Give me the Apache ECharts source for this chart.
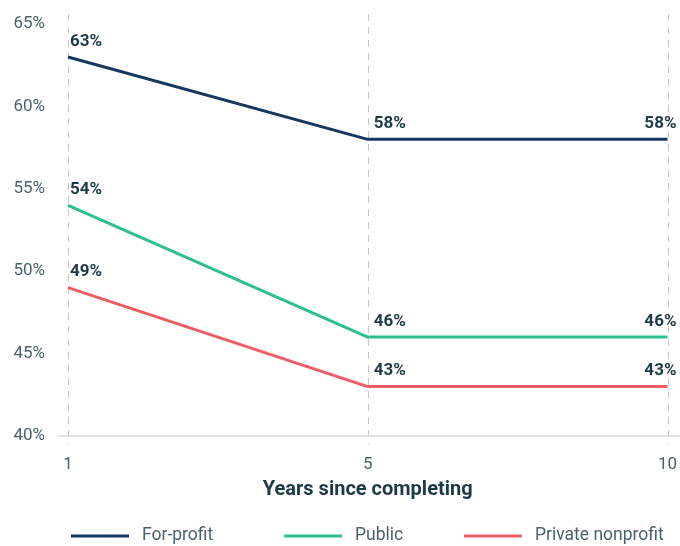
<!DOCTYPE html>
<html><head><meta charset="utf-8">
<script src="https://cdn.jsdelivr.net/npm/echarts@6/dist/echarts.min.js"></script>
<style>html,body{margin:0;padding:0;background:#fff}#c{width:680px;height:546px}</style>
</head><body><div id="c"></div>
<script>
const categories = ['1', '5', '10'];
const forProfit = [63, 58, 58];
const publicVals = [54, 46, 46];
const privateNonprofit = [49, 43, 43];
const yTicks = [40, 45, 50, 55, 60, 65];

const FONT = 'Roboto';
const labelColor = '#1e3a44';
const axisTextColor = '#4b6269';

function mkData(vals) {
  return vals.map((v, i) => ({
    value: v,
    label: i === vals.length - 1
      ? { align: 'right', offset: [9, 0] }
      : { align: 'left', offset: [i === 0 ? 2 : 6, 0] }
  }));
}
function series(name, vals, color) {
  return {
    name, type: 'line', xAxisIndex: 0, yAxisIndex: 0,
    data: mkData(vals), showSymbol: true, symbol: 'circle', symbolSize: 0.1,
    lineStyle: { color, width: 3 }, itemStyle: { color },
    label: { show: true, position: 'top', distance: 7, formatter: '{c}%',
      color: labelColor, fontFamily: FONT, fontWeight: 'bold', fontSize: 17 },
    emphasis: { disabled: true }, animation: false
  };
}
const chart = echarts.init(document.getElementById('c'));
const legendBase = { top: 527, padding: 0, itemWidth: 58, itemHeight: 3, icon: 'rect',
  textStyle: { color: axisTextColor, fontFamily: FONT, fontSize: 17.5, padding: [0, 0, 0, 8] } };
chart.setOption({
  animation: false,
  grid: [
    { left: 68, right: 12, top: 24, bottom: 110 },
    { left: 68, right: 12, top: 14, bottom: 102 },
    { left: 58, right: 0, top: 436, height: 0 }
  ],
  xAxis: [
    { gridIndex: 0, type: 'category', data: categories, boundaryGap: false,
      axisLine: { show: false }, axisTick: { show: false }, splitLine: { show: false },
      axisLabel: { color: axisTextColor, fontFamily: FONT, fontSize: 17, margin: 20 },
      name: 'Years since completing', nameLocation: 'middle', nameGap: 44,
      nameTextStyle: { color: labelColor, fontFamily: FONT, fontWeight: 'bold', fontSize: 20 } },
    { gridIndex: 1, type: 'category', data: categories, boundaryGap: false,
      axisLine: { show: false }, axisTick: { show: false }, axisLabel: { show: false },
      splitLine: { show: true, lineStyle: { color: '#c8c8c8', type: [7, 6], width: 1 } } },
    { gridIndex: 2, type: 'category', data: categories, boundaryGap: false,
      axisLine: { show: true, lineStyle: { color: '#dddddd', width: 1.5 } },
      axisTick: { show: false }, axisLabel: { show: false }, splitLine: { show: false } }
  ],
  yAxis: [
    { gridIndex: 0, type: 'value', min: yTicks[0], max: yTicks[yTicks.length - 1], interval: 5,
      axisLine: { show: false }, axisTick: { show: false }, splitLine: { show: false },
      axisLabel: { formatter: '{value}%', color: axisTextColor, fontFamily: FONT, fontSize: 17, margin: 23 } },
    { gridIndex: 1, type: 'value', show: false, splitLine: { show: false } },
    { gridIndex: 2, type: 'value', show: false, splitLine: { show: false } }
  ],
  legend: [
    Object.assign({}, legendBase, { left: 71, data: ['For-profit'] }),
    Object.assign({}, legendBase, { left: 284, data: ['Public'] }),
    Object.assign({}, legendBase, { left: 464, data: ['Private nonprofit'] })
  ],
  series: [
    series('For-profit', forProfit, '#17385e'),
    series('Public', publicVals, '#2dbf8f'),
    series('Private nonprofit', privateNonprofit, '#ef5d64')
  ]
});
</script></body></html>
